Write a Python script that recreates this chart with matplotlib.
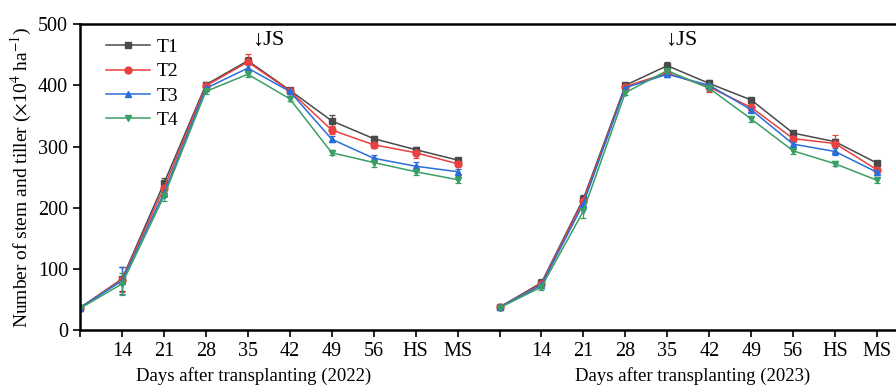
import matplotlib

matplotlib.use("Agg")
import matplotlib.pyplot as plt
from matplotlib.lines import Line2D
from matplotlib.transforms import blended_transform_factory

plt.rcParams["font.family"] = ["Liberation Serif", "DejaVu Serif"]
plt.rcParams["mathtext.fontset"] = "stix"

# sampling stages, the first (day 7) is unlabeled
stages = ["", "14", "21", "28", "35", "42", "49", "56", "HS", "MS"]
treatments = ["T1", "T2", "T3", "T4"]
colors = ["#4a4a4a", "#e8413f", "#2a6fd8", "#3a9f64"]
markers = ["s", "o", "^", "v"]

tiller_2022 = {
    "T1": [37, 84, 240, 401, 440, 392, 342, 313, 295, 278],
    "T2": [37, 83, 232, 399, 438, 391, 327, 303, 290, 272],
    "T3": [37, 81, 224, 395, 428, 390, 312, 281, 268, 259],
    "T4": [36, 76, 219, 390, 418, 378, 290, 274, 259, 246],
}
err_2022 = {
    "T1": [3, 20, 8, 5, 6, 4, 10, 5, 5, 4],
    "T2": [3, 20, 6, 5, 13, 4, 6, 5, 8, 4],
    "T3": [3, 22, 6, 4, 6, 4, 5, 5, 7, 4],
    "T4": [3, 18, 8, 5, 5, 4, 4, 8, 6, 6],
}
tiller_2023 = {
    "T1": [38, 78, 215, 400, 432, 403, 376, 322, 308, 273],
    "T2": [38, 76, 212, 398, 420, 397, 364, 313, 305, 262],
    "T3": [38, 74, 207, 396, 418, 400, 360, 304, 292, 258],
    "T4": [37, 71, 195, 388, 424, 395, 345, 293, 272, 245],
}
err_2023 = {
    "T1": [2, 6, 6, 4, 6, 5, 4, 4, 4, 4],
    "T2": [2, 6, 6, 4, 5, 8, 4, 5, 14, 4],
    "T3": [2, 5, 8, 4, 5, 5, 4, 5, 6, 4],
    "T4": [2, 5, 12, 4, 5, 5, 5, 5, 4, 5],
}

fig = plt.figure(figsize=(8.96, 3.85), dpi=100)
ax = fig.add_axes([0.0893, 0.1416, 0.92, 0.7961])

n = len(stages)
x22 = list(range(n))
x23 = [i + n for i in range(n)]

handles = []
for t, c, m in zip(treatments, colors, markers):
    for xs, vals, errs in [(x22, tiller_2022, err_2022), (x23, tiller_2023, err_2023)]:
        ax.errorbar(
            xs, vals[t], yerr=errs[t], color=c, marker=m, markersize=5,
            linewidth=1.1, elinewidth=0.9, capsize=2.5, capthick=0.9,
        )
    handles.append(Line2D([], [], color=c, marker=m, markersize=5, linewidth=1.1, label=t))

ax.set_xlim(0, 19.65)
ax.set_ylim(0, 500)
ax.set_yticks([0, 100, 200, 300, 400, 500])
ax.set_xticks(x22 + x23)
ax.set_xticklabels(stages + stages)
ax.tick_params(axis="both", direction="out", length=5, width=1.2, labelsize=14.5)
for side in ["left", "bottom", "top"]:
    ax.spines[side].set_linewidth(1.8)
ax.spines["right"].set_visible(False)

ax.set_ylabel("Number of stem and tiller ($\\times$10$^4$ ha$^{-1}$)", fontsize=14, labelpad=3)

trans = blended_transform_factory(ax.transData, fig.transFigure)
ax.text(4.15, 0.0, "Days after transplanting (2022)", transform=trans,
        ha="center", va="bottom", fontsize=13.5)
ax.text(14.6, 0.0, "Days after transplanting (2023)", transform=trans,
        ha="center", va="bottom", fontsize=13.5)

ax.text(4.1, 473, "\u2193JS", ha="left", va="center", fontsize=16)
ax.text(13.95, 473, "\u2193JS", ha="left", va="center", fontsize=16)

ax.legend(handles=handles, loc="upper left", bbox_to_anchor=(0.01, 1.01), frameon=False,
          fontsize=14, handlelength=2.3, handletextpad=0.3, labelspacing=0.35)

fig.savefig("out.png", dpi=100)
